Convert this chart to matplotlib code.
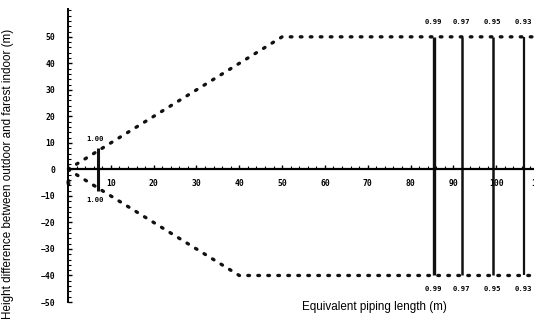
import matplotlib
matplotlib.use('Agg')
import matplotlib.pyplot as plt
from matplotlib.ticker import MultipleLocator

# envelope of allowed height difference vs piping length
upper_x = [0, 50, 110]
upper_y = [0, 50, 50]
lower_x = [0, 40, 110]
lower_y = [0, -40, -40]

# correction factor bars
bar_x = [7, 85.5, 92, 99.3, 106.5]
bar_top = [8, 50, 50, 50, 50]
bar_bot = [-8, -40, -40, -40, -40]
bar_lw = [2.2, 2.4, 1.8, 1.8, 1.6]
bar_labels = ['1.00', '0.99', '0.97', '0.95', '0.93']

fig = plt.figure(figsize=(5.34, 3.24), dpi=100)
# right edge goes a bit past the figure, like the cropped original
ax = fig.add_axes([68/534, 22/324, (539-68)/534, 293/324])
ax.set_xlim(0, 110)
ax.set_ylim(-50, 60.5)

dots = (0, (0.5, 2.5))
ax.plot(upper_x, upper_y, color='#111111', lw=2.4, linestyle=dots,
        dash_capstyle='round')
ax.plot(lower_x, lower_y, color='#111111', lw=2.4, linestyle=dots,
        dash_capstyle='round')

for x, t, b, w, lab in zip(bar_x, bar_top, bar_bot, bar_lw, bar_labels):
    ax.plot([x, x], [b, t], color='#111111', lw=w, solid_capstyle='butt')
    up = 3.4 if t < 20 else 5.6
    dn = 3.4 if t < 20 else 5.0
    off = -0.8 if t < 20 else -0.2
    ax.text(x + off, t + up, lab, ha='center', va='center', fontsize=5.2,
            fontweight='bold', family='DejaVu Sans Mono')
    ax.text(x + off, b - dn, lab, ha='center', va='center', fontsize=5.2,
            fontweight='bold', family='DejaVu Sans Mono')

# axes through the origin
for s in ['top', 'right']:
    ax.spines[s].set_visible(False)
ax.spines['bottom'].set_position(('data', 0))
ax.spines['left'].set_position(('data', 0))
ax.spines['bottom'].set_linewidth(1.6)
ax.spines['left'].set_linewidth(1.4)

ax.xaxis.set_major_locator(MultipleLocator(10))
ax.xaxis.set_minor_locator(MultipleLocator(2))
ax.yaxis.set_major_locator(MultipleLocator(10))
ax.yaxis.set_minor_locator(MultipleLocator(2))
ax.set_yticks(range(-50, 51, 10))
ax.tick_params(axis='x', which='major', direction='in', length=3, width=1,
               pad=7, labelsize=5.8)
ax.tick_params(axis='x', which='minor', direction='in', length=2, width=0.8)
ax.tick_params(axis='y', which='major', direction='in', length=3, width=1,
               pad=9, labelsize=5.8)
ax.tick_params(axis='y', which='minor', direction='in', length=2, width=0.8)
for lab in ax.get_xticklabels() + ax.get_yticklabels():
    lab.set_fontweight('bold')
    lab.set_family('DejaVu Sans Mono')

fig.text(374/534, 1 - 307/324, 'Equivalent piping length (m)', ha='center',
         va='center', fontsize=8.4, family='Liberation Sans')
fig.text(8/534, 1 - 174/324,
         'Height difference between outdoor and farest indoor (m)',
         ha='center', va='center', rotation=90, fontsize=8.4,
         family='Liberation Sans')

fig.savefig('out.png', dpi=100)
